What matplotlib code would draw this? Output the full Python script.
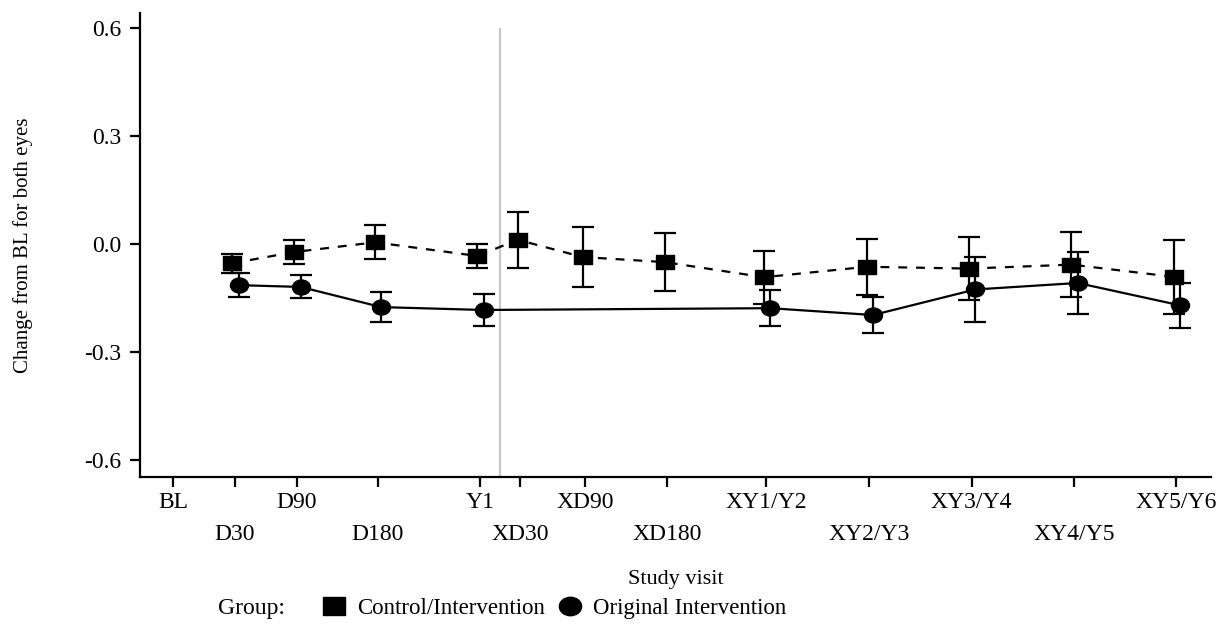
import numpy as np
import matplotlib
matplotlib.use('Agg')
import matplotlib.pyplot as plt
from matplotlib.path import Path
from matplotlib.transforms import Affine2D
from matplotlib.lines import Line2D

plt.rcParams['font.family'] = ['Liberation Serif', 'DejaVu Serif']

# Visits and their positions on the x axis
visits = ['BL', 'D30', 'D90', 'D180', 'Y1', 'XD30', 'XD90', 'XD180',
          'XY1/Y2', 'XY2/Y3', 'XY3/Y4', 'XY4/Y5', 'XY5/Y6']
visit_pos = [0, 1, 2, 3.3, 4.95, 5.6, 6.65, 7.97, 9.57, 11.23, 12.88, 14.53, 16.18]

# Control/Intervention group (D30 .. XY5/Y6)
ctrl_visits = ['D30', 'D90', 'D180', 'Y1', 'XD30', 'XD90', 'XD180',
               'XY1/Y2', 'XY2/Y3', 'XY3/Y4', 'XY4/Y5', 'XY5/Y6']
ctrl_mean = [-0.053, -0.022, 0.005, -0.033, 0.012, -0.036, -0.050,
             -0.092, -0.063, -0.068, -0.057, -0.091]
ctrl_err = [0.026, 0.034, 0.047, 0.032, 0.078, 0.084, 0.080,
            0.073, 0.078, 0.087, 0.090, 0.102]

# Original Intervention group (no crossover visits)
orig_visits = ['D30', 'D90', 'D180', 'Y1', 'XY1/Y2', 'XY2/Y3', 'XY3/Y4', 'XY4/Y5', 'XY5/Y6']
orig_mean = [-0.114, -0.119, -0.175, -0.183, -0.178, -0.197, -0.126, -0.108, -0.170]
orig_err = [0.033, 0.032, 0.042, 0.045, 0.050, 0.050, 0.090, 0.085, 0.062]

crossover_at = 5.27

pos = dict(zip(visits, visit_pos))
ctrl_x = [pos[v] - 0.04 for v in ctrl_visits]
orig_x = [pos[v] + 0.06 for v in orig_visits]

# slightly wide markers (the source image is stretched horizontally)
sq = Path([(-0.5, -0.4), (0.5, -0.4), (0.5, 0.4), (-0.5, 0.4), (-0.5, -0.4)],
          [Path.MOVETO, Path.LINETO, Path.LINETO, Path.LINETO, Path.CLOSEPOLY])
ell = Path.unit_circle().transformed(Affine2D().scale(1, 0.83))

fig = plt.figure(figsize=(12.24, 6.33), dpi=100)
ax = fig.add_axes([0.1144, 0.2464, 0.875, 0.7331])

ax.vlines(crossover_at, -0.65, 0.6, color='#c8c8c8', lw=1.6, zorder=1)

ax.errorbar(ctrl_x, ctrl_mean, yerr=ctrl_err, color='black', lw=1.6,
            ls=(0, (4, 4)), marker=sq, ms=13, capsize=8, capthick=1.6,
            elinewidth=1.6, zorder=3)
ax.errorbar(orig_x, orig_mean, yerr=orig_err, color='black', lw=1.6,
            ls='-', marker=ell, ms=13, capsize=8, capthick=1.6,
            elinewidth=1.6, zorder=3)

ax.set_xlim(-0.53, 16.74)
ax.set_ylim(-0.647, 0.642)
ax.set_yticks([-0.6, -0.3, 0.0, 0.3, 0.6])
ax.set_yticklabels(['-0.6', '-0.3', '0.0', '0.3', '0.6'])
ax.set_xticks(visit_pos)
ax.set_xticklabels(visits)
for i, lbl in enumerate(ax.get_xticklabels()):
    if i % 2 == 1:
        lbl.set_y(-0.069)

for s in ['top', 'right']:
    ax.spines[s].set_visible(False)
for s in ['left', 'bottom']:
    ax.spines[s].set_linewidth(1.6)
ax.tick_params(axis='both', length=7.5, width=1.6, labelsize=17, color='black')
ax.tick_params(axis='x', pad=3)
ax.tick_params(axis='y', pad=6)

ax.set_ylabel('Change from BL for both eyes', fontsize=15)
ax.yaxis.set_label_coords(-0.100, 0.5)
ax.set_xlabel('Study visit', fontsize=16)
ax.xaxis.set_label_coords(0.5, -0.20)

fig.text(218 / 1224, 0.038, 'Group:', fontsize=17, va='center')
handles = [Line2D([], [], color='black', ls='none', marker=sq, ms=16),
           Line2D([], [], color='black', ls='none', marker=ell, ms=16)]
fig.legend(handles, ['Control/Intervention', 'Original Intervention'],
           loc='center left', bbox_to_anchor=(300 / 1224, 0.038), ncol=2,
           frameon=False, fontsize=16.5, handletextpad=0.4, columnspacing=0.5,
           handlelength=1.2)

fig.savefig('out.png', dpi=100)
